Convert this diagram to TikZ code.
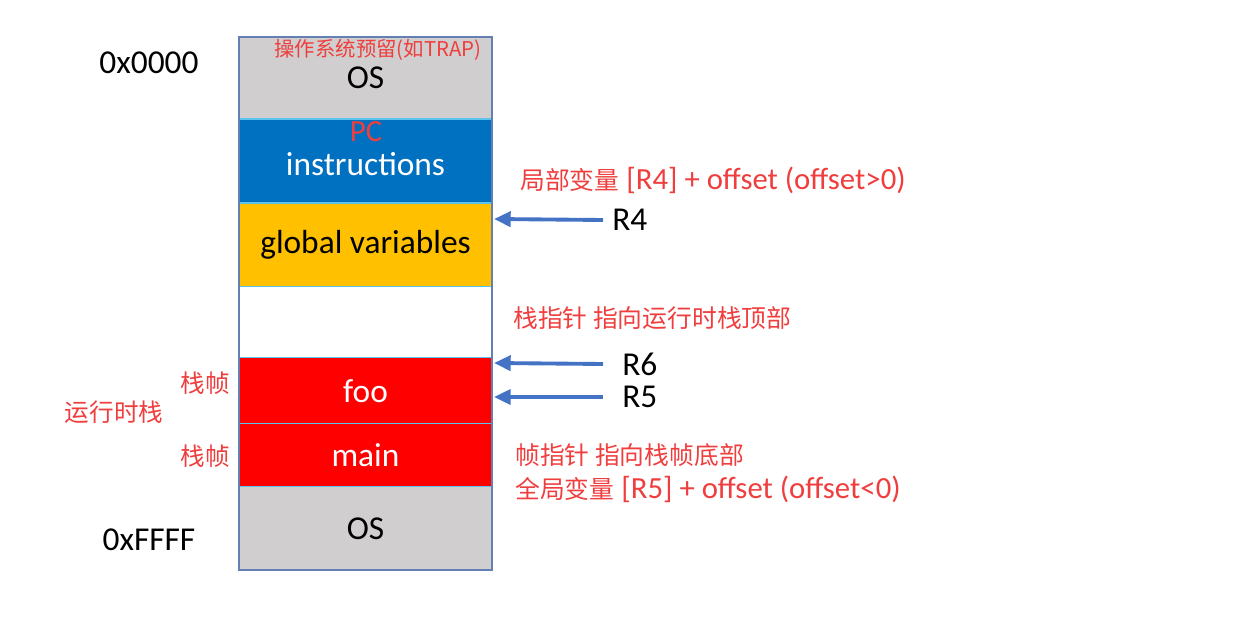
\documentclass[tikz,border=0pt]{standalone}
\usepackage{fontspec}
\setmainfont{Carlito}
\newfontfamily\cjk{Noto Sans CJK SC}
\usetikzlibrary{positioning,arrows.meta}

\definecolor{osgray}{RGB}{208,206,206}
\definecolor{instrblue}{RGB}{0,112,192}
\definecolor{gvaryellow}{RGB}{255,192,0}
\definecolor{stackred}{RGB}{255,0,0}
\definecolor{framecol}{RGB}{100,128,178}
\definecolor{sepcol}{RGB}{90,196,236}
\definecolor{labelred}{RGB}{240,62,62}
\definecolor{arrowblue}{RGB}{68,114,196}

\newcommand{\zhtext}[1]{{\fontsize{14.1}{16}\selectfont\cjk #1}}

\begin{document}
\begin{tikzpicture}[x=0.02cm,y=-0.02cm,
    mem/.style={rectangle,draw=sepcol,line width=0.6pt,minimum width=5.06cm,
        inner sep=0pt,outer sep=0pt,font=\fontsize{19}{22}\selectfont},
    addr/.style={font=\fontsize{19}{22}\selectfont},
    side/.style={text=labelred,font=\fontsize{14}{16}\selectfont\cjk},
    note/.style={anchor=west,inner sep=0pt,text=labelred,font=\fontsize{17.5}{20}\selectfont},
    reg/.style={anchor=west,inner ysep=0pt,font=\fontsize{19}{22}\selectfont},
    ptr/.style={draw=arrowblue,line width=2.2pt,-{Triangle[length=9.5pt,width=8.5pt]}}]

    \fill[white] (0,0) rectangle (1238,618);
    \useasboundingbox (0,0) rectangle (1238,618);

    % memory column, top to bottom
    \node[mem,fill=osgray,minimum height=1.64cm] (OStop) at (365.5,78) {OS};
    \node[mem,fill=instrblue,minimum height=1.68cm,below=0pt of OStop] (instr) {};
    \node[mem,fill=gvaryellow,minimum height=1.68cm,below=0pt of instr] (gvar) {global variables};
    \node[mem,fill=white,minimum height=1.42cm,below=0pt of gvar] (free) {};
    \node[mem,fill=stackred,text=white,minimum height=1.32cm,below=0pt of free] (foo) {foo};
    \node[mem,fill=stackred,text=white,minimum height=1.26cm,below=0pt of foo] (mainf) {main};
    \node[mem,fill=osgray,minimum height=1.66cm,below=0pt of mainf] (OSbot) {OS};
    \draw[framecol,line width=0.8pt] (OStop.north west) rectangle (OSbot.south east);

    \node[text=labelred,font=\fontsize{11.6}{13}\selectfont\cjk] (rsv) at (378,50) {操作系统预留(如TRAP)};
    \node[text=labelred,inner sep=0pt,font=\fontsize{17.5}{20}\selectfont] (pc) at (366,132) {PC};
    \node[text=white,inner sep=0pt,font=\fontsize{19}{22}\selectfont] (instrtxt) at (365.5,164) {instructions};

    % addresses
    \node[addr] (lo) at (149,63) {0x0000};
    \node[addr] (hi) at (149,540) {0xFFFF};

    % stack labels
    \node[side] (fr1) at (205,383) {栈帧};
    \node[side] (rts) at (114,412) {运行时栈};
    \node[side] (fr2) at (205,456) {栈帧};

    % registers
    \coordinate (pR4) at (494,219);
    \coordinate (pR6) at (494,363);
    \coordinate (pR5) at (494,397);
    \node[reg,inner xsep=0.18cm] (R4) at (603,220) {R4};
    \node[reg,inner xsep=0.38cm] (R6) at (603,364) {R6};
    \node[reg,inner xsep=0.38cm] (R5) at (603,397) {R5};

    \draw[ptr] (R4.west) -- (pR4);
    \draw[ptr] (R6.west) -- (pR6);
    \draw[ptr] (R5.west) -- (pR5);

    % notes
    \node[note] (n1) at (520,180) {\zhtext{局部变量} [R4] + offset (offset>0)};
    \node[note] (n2) at (513,318) {\zhtext{栈指针 指向运行时栈顶部}};
    \node[note] (n3) at (515,455) {\zhtext{帧指针 指向栈帧底部}};
    \node[note] (n4) at (515,489) {\zhtext{全局变量} [R5] + offset (offset<0)};
\end{tikzpicture}
\end{document}
